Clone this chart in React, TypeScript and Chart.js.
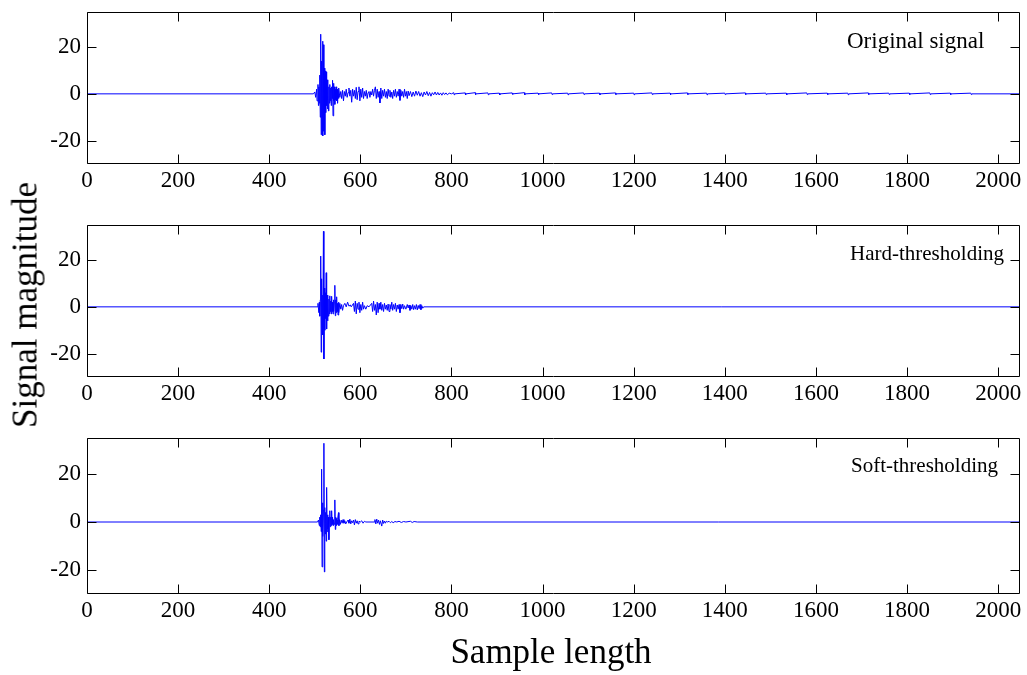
import React, { useEffect, useRef } from 'react';
import { Chart, registerables } from 'chart.js';

Chart.register(...registerables);

// ---------- data ----------
const xTicks = [0, 200, 400, 600, 800, 1000, 1200, 1400, 1600, 1800, 2000];
const yTicks = [-20, 0, 20];
const xMax = 2048;
const yMin = -30;
const yMax = 35;

const panelLabels = ['Original signal', 'Hard-thresholding', 'Soft-thresholding'];
const xTitle = 'Sample length';
const yTitle = 'Signal magnitude';

// Original signal (sample index, magnitude)
const origX = [
  0, 497, 500, 502, 504, 505, 507, 508, 509, 510, 511, 512, 513, 514, 515, 516, 517, 518, 519, 520,
  521, 522, 523, 524, 525, 526, 527, 528, 529, 530, 531, 532, 533, 534, 535, 536, 537, 538, 539, 540,
  541, 542, 543, 544, 545, 546, 547, 548, 549, 550, 551, 552, 553, 555, 557, 559, 561, 563, 565, 567,
  569, 571, 573, 575, 577, 579, 581, 583, 585, 587, 589, 591, 593, 595, 597, 599, 601, 603, 605, 607,
  609, 611, 613, 615, 617, 619, 621, 623, 625, 627, 629, 631, 633, 635, 637, 639, 641, 643, 645, 647,
  649, 651, 653, 655, 657, 659, 661, 663, 665, 667, 669, 671, 673, 675, 677, 679, 681, 683, 685, 687,
  689, 691, 693, 695, 697, 699, 701, 703, 705, 707, 710, 713, 716, 719, 722, 725, 728, 731, 734, 737,
  740, 743, 746, 749, 752, 755, 758, 761, 764, 767, 770, 773, 776, 779, 782, 785, 788, 791, 795, 800,
  805, 806, 807, 830, 831, 832, 852, 853, 854, 880, 881, 882, 905, 906, 907, 933, 934, 935, 960, 961,
  962, 990, 991, 992, 1020, 1021, 1022, 1055, 1056, 1057, 1090, 1091, 1092, 1125, 1126, 1127, 1160, 1161, 1162, 1200,
  1201, 1202, 1240, 1241, 1242, 1280, 1281, 1282, 1318, 1319, 1320, 1360, 1361, 1362, 1400, 1401, 1402, 1445, 1446, 1447,
  1490, 1491, 1492, 1535, 1536, 1537, 1580, 1581, 1582, 1625, 1626, 1627, 1670, 1671, 1672, 1715, 1716, 1717, 1760, 1761,
  1762, 1805, 1806, 1807, 1850, 1851, 1852, 1895, 1896, 1897, 1940, 1941, 1942, 2048,
];
const origY = [
  0, 0, 0.8, -1.5, 2, -3, 4, -5, 3, -4, 8, -10, 25.5, -17.5, 14, -12, 22.5, -18, 21, -16,
  11, -17.5, 9.8, -8, 9.4, -5, 6, -6.5, 4, -7.3, 3, -4, 4, -3, 2.5, -5, 3, -2, 5.8, -9.4,
  4.5, -3, 3, -4.5, 2, -2.5, 3, -3, 2, -4, 1.5, -2, 2.5, -1.5, 1, -2, 1.5, -3, 1, -1,
  2, -1.5, 0.5, 2.5, -1, 1.5, -3.6, 2, -1, 1.5, -2, 2.8, -2.5, 1, 3, -3, 2, -1.5, 2.5, -2,
  1, -1, 1.5, -2, 0.5, 1, -1.5, 1, -0.5, 2, -1, 1.5, 3, -2, 2, -1.5, 1, -3.9, 2.5, -2,
  1.5, -1, 2, -1.5, 1, -2, 2, -1, 1.5, -1.5, 0.8, -2, 1.5, -1, 2, -1.5, 1, -1, 2, -2.8,
  1.5, -1, 1, -1.5, 2, -1, 1, -2, 1.2, -0.8, 1, -1.2, 0.8, -1, 1.2, -0.6, 1, -1, 0.5, -1.2,
  0.8, -0.5, 1, -0.8, 0.6, -1, 0.5, -0.4, 0.8, -0.5, 0.6, -0.5, 0.4, -0.6, 0.5, -0.3, 0.4, -0.4, 0.3, 0,
  0.5, -0.4, 0, 0.4, -0.5, 0, 0.5, -0.3, 0, 0.4, -0.4, 0, 0.3, -0.5, 0, 0.4, -0.3, 0, 0.5, -0.4,
  0, 0.3, -0.4, 0, 0.4, -0.3, 0, 0.3, -0.4, 0, 0.4, -0.3, 0, 0.3, -0.4, 0, 0.4, -0.3, 0, 0.3,
  -0.4, 0, 0.4, -0.3, 0, 0.3, -0.3, 0, 0.4, -0.3, 0, 0.3, -0.4, 0, 0.3, -0.3, 0, 0.4, -0.3, 0,
  0.3, -0.3, 0, 0.3, -0.4, 0, 0.4, -0.3, 0, 0.3, -0.3, 0, 0.3, -0.4, 0, 0.4, -0.3, 0, 0.3, -0.3,
  0, 0.3, -0.3, 0, 0.4, -0.3, 0, 0.3, -0.3, 0, 0.3, -0.3, 0, 0,
];

// Hard-thresholding
const hardX = [
  0, 505, 507, 509, 510, 511, 512, 513, 514, 515, 516, 517, 518, 519, 520, 521, 522, 523, 524, 525,
  526, 527, 528, 529, 530, 531, 532, 533, 534, 535, 536, 537, 538, 539, 540, 541, 542, 543, 544, 545,
  546, 547, 548, 549, 550, 551, 552, 553, 555, 557, 559, 561, 563, 566, 569, 572, 575, 578, 580, 585,
  587, 589, 591, 593, 595, 597, 599, 601, 603, 605, 607, 609, 612, 615, 619, 625, 627, 629, 631, 633,
  635, 637, 639, 641, 643, 645, 647, 649, 651, 653, 655, 657, 659, 661, 663, 665, 667, 669, 671, 673,
  675, 677, 679, 681, 683, 685, 687, 689, 691, 693, 695, 697, 700, 703, 705, 707, 709, 711, 713, 715,
  717, 719, 721, 723, 725, 727, 729, 731, 733, 735, 737, 739, 2048,
];
const hardY = [
  0, 0, 1.5, -2.5, 2, -4, 3, 21.7, -19.4, 12, -8, 5, -12, 32.3, -22.3, 8, -10, 6, -5, 14.6,
  -9.5, 5, -6, 3, -4, 3.3, -3, 4.7, -2, 2.5, -3, 4.5, -2, 2, -3, 3, -2, 2, 9.2, -3.8,
  3, -2.5, 4.3, -2, 1.5, -3.5, 2, -2.5, 1.5, -1, 1, -1.5, 0.5, 1.5, 0, 2, 0.3, 0.8, 0, 1.5,
  -2, 2.5, -3, 1.5, -1, 2, -2.5, 1, -1.5, 2, -1, 0.5, -1, 0.5, 0, 1.5, -2, 2.5, -1.5, 1,
  -3.5, 2, -2.5, 1.5, -1, 2, -1.5, 1, -2, 1.5, -1, 0.8, -1.5, 1.2, -2, 1, -1, 2, -1.5, 1,
  -1, 1.5, -2, 0.8, -1, 1, -2.5, 1, -0.8, 1.2, -1, 0.5, -1, 1, -0.5, 0.8, -1.5, 0.5, -1, 1,
  -1.2, 0.5, -1, 1, -1.3, 0.6, -0.8, 1, -1.2, 0.5, -0.6, 0, 0,
];

// Soft-thresholding
const softX = [
  0, 506, 508, 510, 511, 512, 513, 514, 515, 516, 517, 518, 519, 520, 521, 522, 523, 524, 525, 526,
  527, 528, 529, 530, 531, 532, 533, 534, 535, 536, 537, 538, 539, 540, 541, 543, 544, 545, 546, 547,
  548, 549, 550, 552, 553, 554, 556, 558, 560, 562, 564, 566, 568, 570, 573, 575, 577, 579, 581, 583,
  585, 587, 589, 591, 593, 595, 597, 600, 603, 606, 609, 612, 630, 632, 634, 636, 638, 640, 642, 644,
  647, 649, 651, 653, 655, 657, 660, 663, 666, 669, 672, 676, 680, 685, 690, 695, 700, 710, 714, 718,
  725, 2048,
];
const softY = [
  0, 0, 0.8, -1.5, 2, -2, 3, -4, 22, -18.7, 8, -6, 5, 32.8, -20.8, 6, -5, 4, -8, 14.4,
  -4, 3, -3, 2, -7.4, 2, 4.7, -2, 2, -1.5, 4.7, -1, 2, -1.5, 1, -1, 9.2, -3.1, 2, -1.5,
  1.5, -1, 1, 3.9, -1.5, 1, -1, 0.8, -0.5, 1, -0.5, 0.5, -0.8, 0, 0.8, -0.5, 1.2, -0.8, 0.5, -0.3,
  0.8, -1.2, 1, -0.5, 0.5, -0.8, 0.3, 0, 0.5, -0.5, 0.3, 0, 0, 1, -0.8, 1.2, -0.5, 0.8, -1, 0.5,
  -1.7, 0.8, -0.6, 0.4, -0.5, 0.3, 0, 0.3, -0.3, 0.2, -0.3, 0.2, 0, 0.3, -0.2, 0.2, 0, 0.3, -0.2, 0.2,
  0, 0,
];

const seriesX = [origX, hardX, softX];
const seriesY = [origY, hardY, softY];

// ---------- layout / style ----------
const W = 1027;
const H = 675;
const PLOT_LEFT = 87;
const PLOT_RIGHT = 1020;
const PANEL_TOPS = [12, 225, 438];
const PANEL_BOTTOMS = [164, 377, 594];
const PAD_TOP = 6;
const XAXIS_H = 40;
const TICK_LEN = 9;
const SERIF = "'Times New Roman', 'Liberation Serif', 'DejaVu Serif', serif";
const TICK_FONT_SIZE = 23;
const LABEL_FONT_SIZES = [23, 21, 21];
const TITLE_FONT_SIZE = 35;
const LABEL_LEFTS = [847, 850, 851];
const LABEL_BASELINES = [48, 261, 473];

const boxPlugin = {
  id: 'matlabBox',
  afterDraw(chart: any) {
    const { ctx, chartArea } = chart;
    const { left, right, top, bottom } = chartArea;
    const xs = chart.scales.x;
    const ys = chart.scales.y;
    ctx.save();
    ctx.strokeStyle = '#000';
    ctx.lineWidth = 1;
    const l = Math.round(left) + 0.5;
    const r = Math.round(right) - 0.5;
    const t = Math.round(top) + 0.5;
    const b = Math.round(bottom) - 0.5;
    ctx.beginPath();
    ctx.moveTo(l, t);
    ctx.lineTo(r, t);
    ctx.lineTo(r, b);
    ctx.lineTo(l, b);
    ctx.closePath();
    ctx.stroke();
    ctx.beginPath();
    xs.ticks.forEach((tk: any) => {
      const px = Math.round(xs.getPixelForValue(tk.value)) + 0.5;
      ctx.moveTo(px, b);
      ctx.lineTo(px, b - TICK_LEN);
      ctx.moveTo(px, t);
      ctx.lineTo(px, t + TICK_LEN);
    });
    ys.ticks.forEach((tk: any) => {
      const py = Math.round(ys.getPixelForValue(tk.value)) + 0.5;
      ctx.moveTo(l, py);
      ctx.lineTo(l + TICK_LEN, py);
      ctx.moveTo(r, py);
      ctx.lineTo(r - TICK_LEN, py);
    });
    ctx.stroke();
    ctx.restore();
  },
};

function makeConfig(i: number): any {
  const data = seriesX[i].map((x, k) => ({ x, y: seriesY[i][k] }));
  const font = { family: SERIF, size: TICK_FONT_SIZE };
  return {
    type: 'line',
    data: {
      datasets: [
        {
          data,
          borderColor: '#0000ff',
          borderWidth: 1,
          pointRadius: 0,
          tension: 0,
          fill: false,
        },
      ],
    },
    options: {
      animation: false,
      responsive: false,
      maintainAspectRatio: false,
      devicePixelRatio: 1,
      events: [],
      layout: { padding: { top: PAD_TOP, right: W - PLOT_RIGHT, left: 0, bottom: 0 } },
      plugins: { legend: { display: false }, tooltip: { enabled: false }, title: { display: false } },
      scales: {
        x: {
          type: 'linear',
          min: 0,
          max: xMax,
          grid: { display: false, drawTicks: false },
          border: { display: false },
          ticks: {
            font,
            color: '#000',
            padding: 3,
            maxRotation: 0,
            autoSkip: false,
            callback: (v: any) => String(v),
          },
          afterBuildTicks: (s: any) => {
            s.ticks = xTicks.map((v) => ({ value: v }));
          },
          afterFit: (s: any) => {
            s.height = XAXIS_H;
            s.paddingLeft = 0;
            s.paddingRight = 0;
          },
        },
        y: {
          type: 'linear',
          min: yMin,
          max: yMax,
          grid: { display: false, drawTicks: false },
          border: { display: false },
          ticks: { font, color: '#000', padding: 6, callback: (v: any) => String(v) },
          afterBuildTicks: (s: any) => {
            s.ticks = yTicks.map((v) => ({ value: v }));
          },
          afterFit: (s: any) => {
            s.width = PLOT_LEFT;
            s.paddingTop = 0;
            s.paddingBottom = 0;
          },
        },
      },
    },
    plugins: [boxPlugin],
  };
}

export default function App() {
  const r0 = useRef<HTMLCanvasElement>(null);
  const r1 = useRef<HTMLCanvasElement>(null);
  const r2 = useRef<HTMLCanvasElement>(null);
  const refs = [r0, r1, r2];

  useEffect(() => {
    const charts = refs.map((r, i) => new Chart(r.current as HTMLCanvasElement, makeConfig(i)));
    return () => charts.forEach((c) => c.destroy());
  }, []);

  const labelTop = (baseline: number, fs: number) => baseline - 0.8375 * fs;

  return (
    <div
      style={{
        position: 'absolute',
        left: 0,
        top: 0,
        width: W,
        height: H,
        background: '#fff',
        overflow: 'hidden',
        fontFamily: SERIF,
        color: '#000',
      }}
    >
      {PANEL_TOPS.map((top, i) => {
        const h = PANEL_BOTTOMS[i] - top + PAD_TOP + XAXIS_H;
        return (
          <canvas
            key={i}
            ref={refs[i]}
            width={W}
            height={h}
            style={{ position: 'absolute', left: 0, top: top - PAD_TOP, width: W, height: h }}
          />
        );
      })}
      {panelLabels.map((t, i) => (
        <div
          key={t}
          style={{
            position: 'absolute',
            left: LABEL_LEFTS[i],
            top: labelTop(LABEL_BASELINES[i], LABEL_FONT_SIZES[i]),
            fontSize: LABEL_FONT_SIZES[i],
            lineHeight: `${LABEL_FONT_SIZES[i]}px`,
            whiteSpace: 'nowrap',
          }}
        >
          {t}
        </div>
      ))}
      <div
        style={{
          position: 'absolute',
          left: 25,
          top: 305,
          transform: 'translate(-50%, -50%) rotate(-90deg)',
          fontSize: TITLE_FONT_SIZE,
          lineHeight: `${TITLE_FONT_SIZE}px`,
          whiteSpace: 'nowrap',
        }}
      >
        {yTitle}
      </div>
      <div
        style={{
          position: 'absolute',
          left: 551,
          top: 634,
          transform: 'translateX(-50%)',
          fontSize: TITLE_FONT_SIZE,
          lineHeight: `${TITLE_FONT_SIZE}px`,
          whiteSpace: 'nowrap',
        }}
      >
        {xTitle}
      </div>
    </div>
  );
}
